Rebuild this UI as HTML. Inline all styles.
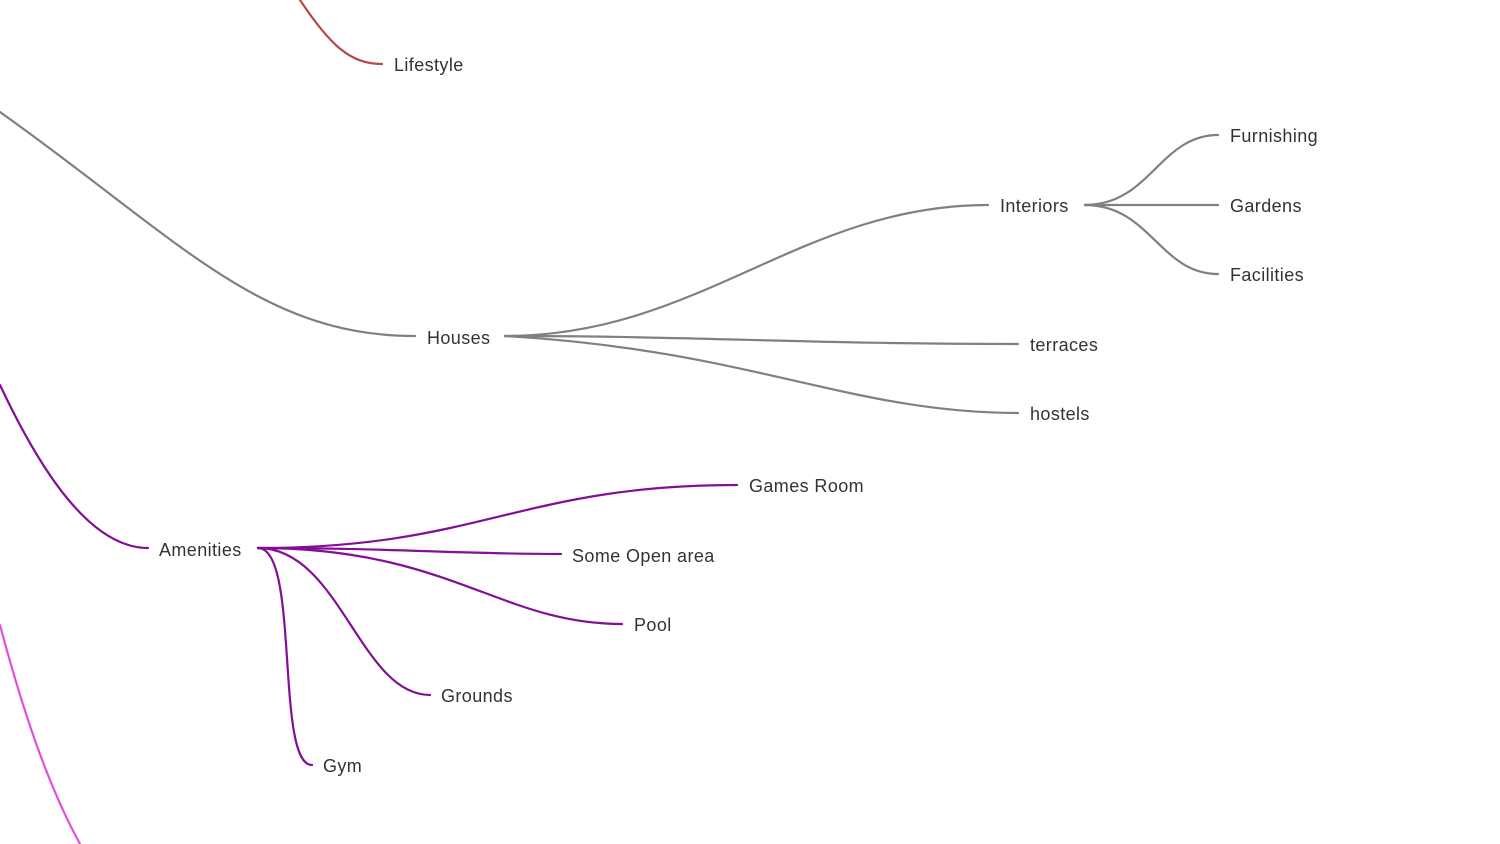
<!DOCTYPE html>
<html><head><meta charset="utf-8"><style>
html,body{margin:0;padding:0;background:#fff;width:1500px;height:844px;overflow:hidden}
svg text{font-family:"Liberation Sans",sans-serif;font-size:18px;fill:#333;dominant-baseline:middle;letter-spacing:0.4px}
</style></head><body>
<svg width="1500" height="844" viewBox="0 0 1500 844" fill="none" stroke-width="2.2" stroke-linecap="round">
<g stroke="#b84848"><path d="M300,0 C330,45 350,64 382,64"/></g>
<g stroke="#808080">
<path d="M0,112 C180,240 260,336 415,336"/>
<path d="M505,336 C700,336 800,205 988,205"/>
<path d="M505,336 C700,336 800,344 1018,344"/>
<path d="M505,336 C750,350 850,413 1018,413"/>
<path d="M1085,205 C1150,205 1160,135 1218,135"/>
<path d="M1085,205 L1218,205"/>
<path d="M1085,205 C1150,205 1160,274 1218,274"/>
</g>
<g stroke="#820f96">
<path d="M0,385 C40,470 90,548 148,548"/>
<path d="M258,548 C480,548 520,485 737,485"/>
<path d="M258,548 C400,548 450,554 561,554"/>
<path d="M258,548 C450,548 500,624 622,624"/>
<path d="M258,548 C340,548 360,695 430,695"/>
<path d="M258,548 C300,548 275,765 312,765"/>
</g>
<g stroke="#e050dc"><path d="M0,625 C20,700 45,780 80,844"/></g>
<text x="394" y="66">Lifestyle</text>
<text x="427" y="339">Houses</text>
<text x="1000" y="207">Interiors</text>
<text x="1030" y="346">terraces</text>
<text x="1030" y="415">hostels</text>
<text x="1230" y="137">Furnishing</text>
<text x="1230" y="207">Gardens</text>
<text x="1230" y="276">Facilities</text>
<text x="159" y="551">Amenities</text>
<text x="749" y="487">Games Room</text>
<text x="572" y="557">Some Open area</text>
<text x="634" y="626">Pool</text>
<text x="441" y="697">Grounds</text>
<text x="323" y="767">Gym</text>
</svg>
</body></html>
